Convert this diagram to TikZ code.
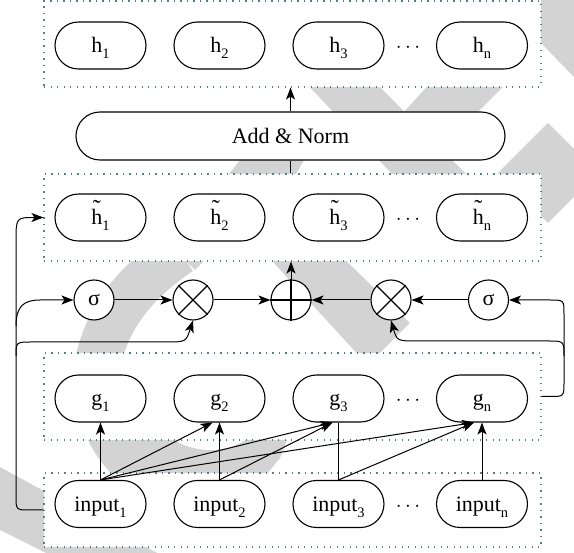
\documentclass[tikz,border=0pt]{standalone}
\usepackage{fontspec}
\setmainfont{Liberation Serif}
\usetikzlibrary{arrows.meta,calc}
\definecolor{boxline}{RGB}{90,125,140}
\definecolor{wm}{RGB}{211,211,211}
\newcommand{\lsub}[1]{\raisebox{-6pt}{\fontsize{14.5}{14.5}\selectfont #1}}
% h with a tilde set above its ascender
\newcommand{\htil}{\makebox[0pt][l]{\makebox[11pt]{\raisebox{8pt}{\fontsize{24}{24}\selectfont\char"02DC}}}h}
\tikzset{
  dbox/.style={draw=boxline, fill=white, line width=1.1pt, dash pattern=on 1.1pt off 5.4pt,
    inner sep=0pt, minimum width=497pt},
  pill/.style={draw, fill=white, line width=1.1pt, rounded corners=23.5pt, minimum width=91pt,
    minimum height=47pt, inner sep=0pt, font=\fontsize{22}{26}\selectfont,
    text height=15pt, text depth=0pt},
  op/.style={draw, fill=white, circle, line width=1.1pt, minimum size=40pt, inner sep=0pt,
    font=\fontsize{22}{26}\selectfont},
  dots/.style={inner sep=0pt, font=\fontsize{22}{26}\selectfont, text height=15pt, text depth=0pt},
  conn/.style={line width=1pt},
  arr/.style={conn, -{Stealth[length=12pt,width=9pt,inset=3pt]}},
}
\begin{document}
\begin{tikzpicture}[x=1pt,y=-1pt]
\useasboundingbox (0,0) rectangle (574,553);

% light grey background bands
\begin{scope}
  \clip (0,0) rectangle (574,553);
  \fill[wm] (541,0) -- (574,0) -- (574,77) -- (541,43) -- cycle;
  \fill[wm] (303,80) -- (373,80) -- (466,174) -- (392,174) -- cycle;
  \fill[wm] (433,80) -- (510,80) -- (478,112) -- (404,112) -- cycle;
  \fill[wm] (240,160) -- (304,160) -- (296,174) -- (229,174) -- cycle;
  \fill[wm] (548,123) -- (598,173) -- (548,223) -- (498,173) -- cycle;
  \draw[wm, line width=46pt] (98,362) .. controls (108,315) and (138,280) .. (180,252);
  \fill[wm] (186,261) -- (204,261) -- (195,270) -- cycle;
  \fill[wm] (262,250) -- (335,250) -- (410,323) -- (372,361) -- (364,361) -- cycle;
  \begin{scope}
    \clip (0,430) -- (290,430) -- (287,440) -- (280,458) -- (266,475) -- (0,475) -- cycle;
    \fill[wm, even odd rule] (210,380) circle[radius=136] (210,380) circle[radius=70];
  \end{scope}
  \fill[wm] (0,467) -- (170,560) -- (60,560) -- (0,530) -- cycle;
\end{scope}

% dotted layer frames
\node[dbox, minimum height=86pt] (topbox) at (292.5,44) {};
\node[dbox, minimum height=87pt] (tbox) at (292.5,217.5) {};
\node[dbox, minimum height=87pt] (gbox) at (292.5,396.5) {};
\node[dbox, minimum height=74pt] (ibox) at (292.5,510) {};

% output row
\node[pill] (h1) at (100.5,45.5) {h\lsub{1}};
\node[pill] (h2) at (219.5,45.5) {h\lsub{2}};
\node[pill] (h3) at (338.5,45.5) {h\lsub{3}};
\node[dots] (hd) at (408,45.5) {$\cdots$};
\node[pill] (hn) at (482,45.5) {h\lsub{n}};

% add & norm
\node[pill, minimum width=429pt, minimum height=48pt, rounded corners=24pt] (an) at (290.5,136) {Add \& Norm};

% intermediate row
\node[pill] (t1) at (100.5,217.5) {\htil\lsub{1}};
\node[pill] (t2) at (219.5,217.5) {\htil\lsub{2}};
\node[pill] (t3) at (338.5,217.5) {\htil\lsub{3}};
\node[dots] (td) at (408,217.5) {$\cdots$};
\node[pill] (tn) at (482,217.5) {\htil\lsub{n}};

% gating operators
\node[op] (s1) at (94,300) {σ};
\node[op] (x1) at (193,300) {};
\node[op] (pl) at (291,300) {};
\node[op] (x2) at (391,300) {};
\node[op] (s2) at (488.5,300) {σ};
\draw[line width=1.1pt] (x1.45) -- (x1.225) (x1.135) -- (x1.315);
\draw[line width=1.1pt] (x2.45) -- (x2.225) (x2.135) -- (x2.315);
\draw[line width=1.1pt] (pl.north) -- (pl.south) (pl.east) -- (pl.west);

% g row
\node[pill] (g1) at (100.5,398.5) {g\lsub{1}};
\node[pill] (g2) at (219.5,398.5) {g\lsub{2}};
\node[pill] (g3) at (338.5,398.5) {g\lsub{3}};
\node[dots] (gd) at (408,398.5) {$\cdots$};
\node[pill] (gn) at (482,398.5) {g\lsub{n}};

% input row
\node[pill] (i1) at (100.5,504) {input\lsub{1}};
\node[pill] (i2) at (219.5,504) {input\lsub{2}};
\node[pill] (i3) at (338.5,504) {input\lsub{3}};
\node[dots] (id) at (408,504) {$\cdots$};
\node[pill] (inn) at (482,504) {input\lsub{n}};

% vertical flow
\draw[arr] (an.north) -- (an.north |- topbox.south);
\draw[conn] (an.south |- tbox.north) -- (an.south);
\draw[arr] (pl.north) -- (pl.north |- tbox.south);
\draw[arr] (s1.east) -- (x1.west);
\draw[arr] (x1.east) -- (pl.west);
\draw[arr] (x2.west) -- (pl.east);
\draw[arr] (s2.west) -- (x2.east);

% residual path on the left
\draw[arr] (ibox.west) -- (30,510) .. controls (16,510) .. (16,496) -- (16,242)
  .. controls (16,217.5) .. (tbox.west);
\draw[arr] (16,326) .. controls (16,306) and (24,300) .. (40,300) -- (s1.west);
\draw[arr] (16,356) .. controls (16,342) .. (32,342) -- (165,342) .. controls (186,342) .. (x1.south);

% path from the g layer on the right
\draw[arr] (gbox.east) -- (550,396.5) .. controls (564,396.5) .. (564,382) -- (564,314)
  .. controls (564,300) .. (550,300) -- (s2.east);
\draw[arr] (564,356) .. controls (564,341) .. (548,341) -- (418,341) .. controls (397,341) .. (x2.south);

% causal connections from inputs to g
\draw[arr] (i1.north) -- (g1.south);
\draw[arr] (i1.north) -- ($(g2.south)+(-7,0)$);
\draw[arr] (i2.north) -- (g2.south);
\draw[arr] (i1.north) -- ($(g3.south)+(-6,0)$);
\draw[arr] (i2.north) -- ($(g3.south)+(-6,0)$);
\draw[conn] (i3.north) -- (g3.south);
\draw[arr] (i1.north) -- ($(gn.south)+(-8,0)$);
\draw[arr] (i3.north) -- ($(gn.south)+(-8,0)$);
\draw[arr] (inn.north) -- (gn.south);
\end{tikzpicture}
\end{document}
